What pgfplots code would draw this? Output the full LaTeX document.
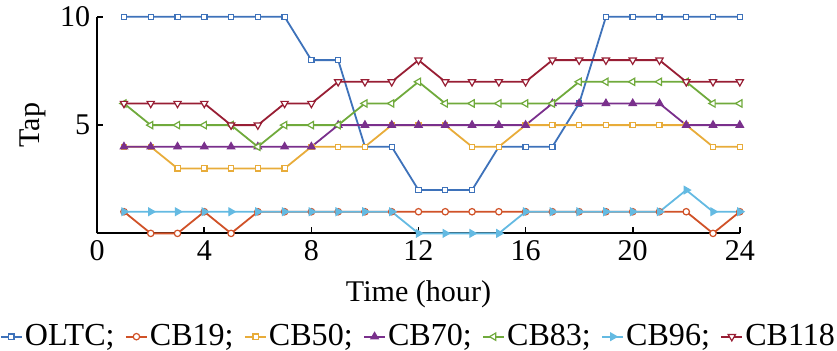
\documentclass[border=0pt]{standalone}
\usepackage{fontspec}
\setmainfont{Liberation Serif}
\usepackage{pgfplots}
\pgfplotsset{compat=1.18}
\definecolor{cOLTC}{RGB}{62,114,186}
\definecolor{cCBa}{RGB}{208,82,40}
\definecolor{cCBb}{RGB}{232,172,58}
\definecolor{cCBc}{RGB}{122,48,140}
\definecolor{cCBd}{RGB}{112,170,60}
\definecolor{cCBe}{RGB}{100,186,226}
\definecolor{cCBf}{RGB}{152,30,52}
\begin{document}
\begin{tikzpicture}
\begin{axis}[
  scale only axis, width=320.5pt, height=108pt,
  xmin=0, xmax=24, ymin=0, ymax=10,
  axis x line*=bottom, axis y line*=left,
  xtick={0,4,...,24}, ytick={5,10},
  tick align=inside, major tick length=3pt,
  tick style={black, line width=0.8pt},
  axis line style={black, line width=0.9pt},
  clip=false,
  font=\fontsize{15}{18}\selectfont,
  /pgf/number format/assume math mode=true,
  xlabel={Time (hour)}, ylabel={Tap},
  xlabel style={font=\fontsize{15}{18}\selectfont, yshift=-3pt},
  ylabel style={font=\fontsize{15}{18}\selectfont},
  every axis plot/.append style={line width=0.9pt},
  legend style={at={(0.5,-0.477)}, anchor=center, draw=none, fill=none,
    font=\fontsize{16}{18}\selectfont, legend columns=7,
    inner sep=0pt, nodes={inner sep=1pt},
    /tikz/every even column/.append style={column sep=4.2pt}},
  legend image code/.code={\draw[mark repeat=2,mark phase=2] plot coordinates {(0pt,0pt) (5.25pt,0pt) (10.5pt,0pt)};},
]
\addplot[cOLTC, mark=square*, mark size=1.3pt, mark options={fill=white, line width=0.6pt}] coordinates {
(1,10)(2,10)(3,10)(4,10)(5,10)(6,10)(7,10)(8,8)(9,8)(10,4)(11,4)(12,2)(13,2)(14,2)(15,4)(16,4)(17,4)(18,6)(19,10)(20,10)(21,10)(22,10)(23,10)(24,10)};
\addlegendentry{OLTC;}
\addplot[cCBa, mark=*, mark size=1.6pt, mark options={fill=white, line width=0.6pt}] coordinates {
(1,1)(2,0)(3,0)(4,1)(5,0)(6,1)(7,1)(8,1)(9,1)(10,1)(11,1)(12,1)(13,1)(14,1)(15,1)(16,1)(17,1)(18,1)(19,1)(20,1)(21,1)(22,1)(23,0)(24,1)};
\addlegendentry{CB19;}
\addplot[cCBb, mark=square*, mark size=1.3pt, mark options={fill=white, line width=0.6pt}] coordinates {
(1,4)(2,4)(3,3)(4,3)(5,3)(6,3)(7,3)(8,4)(9,4)(10,4)(11,5)(12,5)(13,5)(14,4)(15,4)(16,5)(17,5)(18,5)(19,5)(20,5)(21,5)(22,5)(23,4)(24,4)};
\addlegendentry{CB50;}
\addplot[cCBc, mark=triangle*, mark size=2.1pt, mark options={fill=cCBc, line width=0.6pt}] coordinates {
(1,4)(2,4)(3,4)(4,4)(5,4)(6,4)(7,4)(8,4)(9,5)(10,5)(11,5)(12,5)(13,5)(14,5)(15,5)(16,5)(17,6)(18,6)(19,6)(20,6)(21,6)(22,5)(23,5)(24,5)};
\addlegendentry{CB70;}
\addplot[cCBd, mark=triangle*, mark size=2.1pt, mark options={fill=white, rotate=90, line width=0.6pt}] coordinates {
(1,6)(2,5)(3,5)(4,5)(5,5)(6,4)(7,5)(8,5)(9,5)(10,6)(11,6)(12,7)(13,6)(14,6)(15,6)(16,6)(17,6)(18,7)(19,7)(20,7)(21,7)(22,7)(23,6)(24,6)};
\addlegendentry{CB83;}
\addplot[cCBe, mark=triangle*, mark size=2.1pt, mark options={fill=cCBe, rotate=-90, line width=0.6pt}] coordinates {
(1,1)(2,1)(3,1)(4,1)(5,1)(6,1)(7,1)(8,1)(9,1)(10,1)(11,1)(12,0)(13,0)(14,0)(15,0)(16,1)(17,1)(18,1)(19,1)(20,1)(21,1)(22,2)(23,1)(24,1)};
\addlegendentry{CB96;}
\addplot[cCBf, mark=triangle*, mark size=2.1pt, mark options={fill=white, rotate=180, line width=0.6pt}] coordinates {
(1,6)(2,6)(3,6)(4,6)(5,5)(6,5)(7,6)(8,6)(9,7)(10,7)(11,7)(12,8)(13,7)(14,7)(15,7)(16,7)(17,8)(18,8)(19,8)(20,8)(21,8)(22,7)(23,7)(24,7)};
\addlegendentry{CB118}
\end{axis}
\end{tikzpicture}
\end{document}
